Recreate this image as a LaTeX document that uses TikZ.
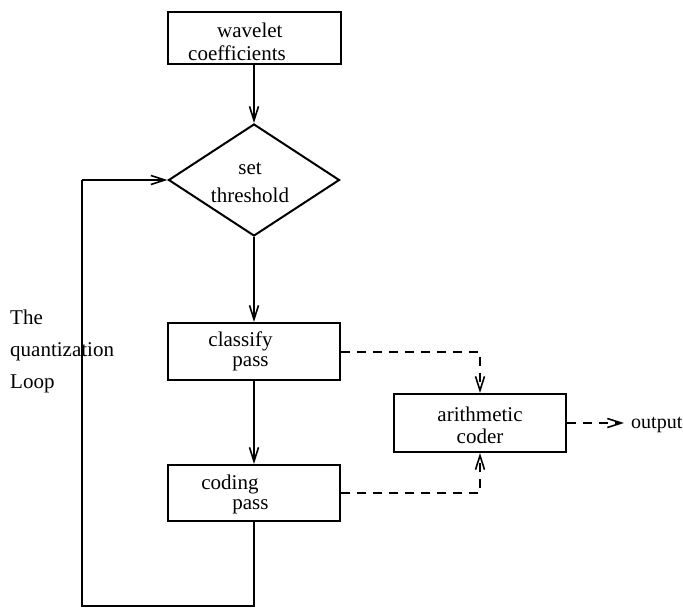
\documentclass[tikz,border=0pt]{standalone}
\usepackage{fontspec}
\setmainfont{Liberation Serif}
\usetikzlibrary{arrows.meta,shapes.geometric}
\begin{document}
\begin{tikzpicture}[x=1pt,y=-1pt,
  every node/.style={font=\fontsize{21}{24}\selectfont},
  box/.style={draw,line width=2pt,inner sep=0pt},
  txt/.style={inner sep=0pt},
  ln/.style={line width=2pt},
  arr/.style={ln,-{Straight Barb[length=14pt,width=9pt,line width=1.6pt]}},
  darr/.style={arr,dash pattern=on 9pt off 7pt},
  dln/.style={ln,dash pattern=on 9pt off 7pt}]
\useasboundingbox (0,0) rectangle (683,608);
% boxes
\node[box,minimum width=173pt,minimum height=52pt] (wav) at (254,38) {};
\node[box,diamond,minimum width=171pt,minimum height=112pt] (dia) at (254,180) {};
\node[box,minimum width=172pt,minimum height=57pt] (cls) at (254,351.5) {};
\node[box,minimum width=172pt,minimum height=56pt] (cod) at (254,493) {};
\node[box,minimum width=172pt,minimum height=58pt] (ari) at (480,423) {};
% texts
\node[txt,align=left,font=\fontsize{21}{23}\selectfont] (wavt) at (237,42) {\hspace*{29pt}wavelet\\coefficients};
\node[txt,align=center,font=\fontsize{21}{28}\selectfont] (diat) at (250,183) {set\\threshold};
\node[txt,align=left,font=\fontsize{21}{20}\selectfont] (clst) at (240.5,351) {classify\\\hspace*{24pt}pass};
\node[txt,align=left,font=\fontsize{21}{20}\selectfont] (codt) at (235,494) {coding\\\hspace*{31pt}pass};
\node[txt,align=center,font=\fontsize{21}{22}\selectfont] (arit) at (480,425) {arithmetic\\coder};
\node[txt,align=left,anchor=west,font=\fontsize{21}{32}\selectfont] (loop) at (10,351) {The\\quantization\\Loop};
\node[txt,anchor=west,font=\fontsize{20}{24}\selectfont] (out) at (631,425) {output};
% coordinates
\coordinate (br) at (254,606);
\coordinate (bl) at (82,606);
\coordinate (tl) at (bl |- dia.west);
\coordinate (oe) at (624,423);
% connectors
\draw[arr] (wav.south) -- (dia.north);
\draw[arr] (dia.south) -- (cls.north);
\draw[arr] (cls.south) -- (cod.north);
\draw[ln] (cod.south) -- (br) -- (bl) -- (tl);
\draw[arr] (tl) -- (dia.west);
\draw[darr] (cls.east) -| (ari.north);
\draw[darr] (cod.east) -| (ari.south);
\draw[darr] (ari.east) -- (oe);
\end{tikzpicture}
\end{document}
